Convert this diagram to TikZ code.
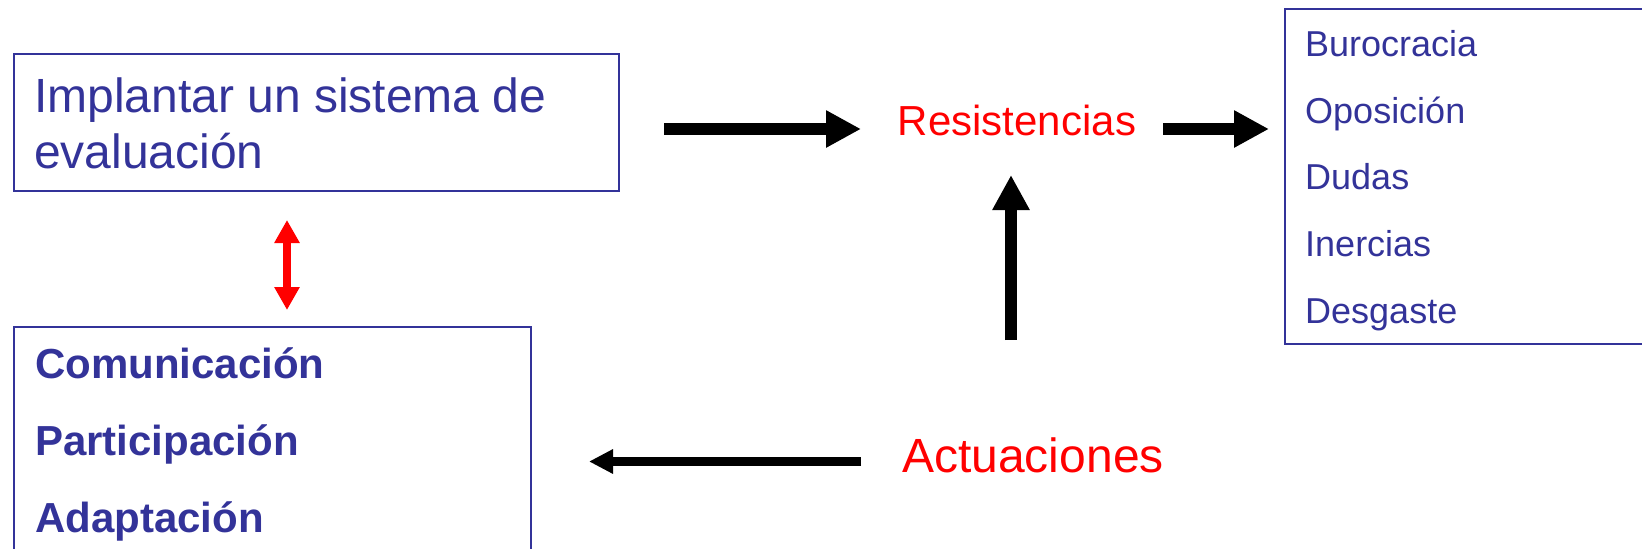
\documentclass[tikz,border=0pt]{standalone}
\usepackage{fontspec}
\setmainfont{Liberation Sans}
\usetikzlibrary{arrows.meta}
\definecolor{tblue}{HTML}{333399}
\definecolor{tred}{HTML}{FF0000}
\tikzset{
  boxshape/.style={draw=tblue, line width=2pt, inner sep=0pt, anchor=north west},
  bluetxt/.style={text=tblue, inner sep=0pt, anchor=base west},
  redtxt/.style={text=tred, inner sep=0pt, anchor=base},
  bigarrow/.style={line width=11.5pt, black, -{Triangle[length=35pt,width=35pt]}},
  smallarrow/.style={line width=8.5pt, black, -{Triangle[length=24pt,width=23pt]}},
  redarrow/.style={line width=8pt, tred, {Triangle[length=23pt,width=24pt]}-{Triangle[length=23pt,width=24pt]}}
}
\begin{document}
\begin{tikzpicture}[x=1pt,y=-1pt]
\useasboundingbox (0,0) rectangle (1642,549);
% boxes
\node[boxshape, minimum width=605pt, minimum height=137pt] (b1) at (13,53) {};
\node[boxshape, minimum width=517pt, minimum height=260pt] (b2) at (13,326) {};
\node[boxshape, minimum width=400pt, minimum height=335pt] (b3) at (1284,7.5) {};
% box 1 text
\node[bluetxt, font=\fontsize{48}{56}\selectfont] (t1a) at (34,112) {Implantar un sistema de};
\node[bluetxt, font=\fontsize{48}{56}\selectfont] (t1b) at (34,168) {evaluación};
% box 2 text
\node[bluetxt, font=\bfseries\fontsize{42}{50}\selectfont] (c1) at (35,378) {Comunicación};
\node[bluetxt, font=\bfseries\fontsize{42}{50}\selectfont] (c2) at (35,455) {Participación};
\node[bluetxt, font=\bfseries\fontsize{42}{50}\selectfont] (c3) at (35,532) {Adaptación};
% box 3 text
\node[bluetxt, font=\fontsize{36}{42}\selectfont] (r1) at (1305,56) {Burocracia};
\node[bluetxt, font=\fontsize{36}{42}\selectfont] (r2) at (1305,123) {Oposición};
\node[bluetxt, font=\fontsize{36}{42}\selectfont] (r3) at (1305,189) {Dudas};
\node[bluetxt, font=\fontsize{36}{42}\selectfont] (r4) at (1305,256) {Inercias};
\node[bluetxt, font=\fontsize{36}{42}\selectfont] (r5) at (1305,323) {Desgaste};
% red labels
\node[redtxt, font=\fontsize{42}{50}\selectfont] (res) at (1017,135) {Resistencias};
\node[redtxt, font=\fontsize{48}{56}\selectfont] (act) at (1033,472) {Actuaciones};
% connector endpoints
\coordinate (a1s) at (664,129);
\coordinate (a1e) at (861,129);
\coordinate (a2s) at (1163,129);
\coordinate (a2e) at (1269,129);
\coordinate (a3s) at (1011,340);
\coordinate (a3e) at (1011,175);
\coordinate (a4s) at (861,461.5);
\coordinate (a4e) at (589,461.5);
\coordinate (d1) at (287,220);
\coordinate (d2) at (287,310);
% arrows
\draw[bigarrow] (a1s) -- (a1e);
\draw[bigarrow] (a2s) -- (a2e);
\draw[bigarrow] (a3s) -- (a3e);
\draw[smallarrow] (a4s) -- (a4e);
\draw[redarrow] (d1) -- (d2);
\end{tikzpicture}
\end{document}
